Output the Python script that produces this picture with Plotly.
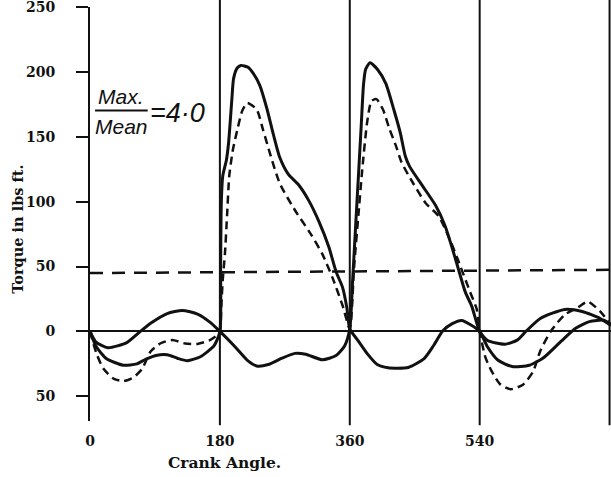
import plotly.graph_objects as go

INK = "#111111"

# ---- data (crank angle in degrees, torque in lbs ft) ----
# solid curve P : lobe 0-180, power peak 180-360, lobe 360-540, lobe 540-720
angle_p = [0, 9, 23, 46, 65, 77, 93, 107, 121, 135, 153, 172, 180,
           181, 182, 184, 189, 192, 196.6, 199, 204, 209, 219, 226, 235, 245, 254, 263, 275, 289, 303, 317, 331, 341, 350, 356, 360,
           372, 385, 398, 413, 441, 463, 476, 489, 502, 515, 528, 540,
           551, 565, 585, 609, 629, 653, 673, 692, 712, 722]
torque_p = [0, -12, -21, -26, -25, -21.5, -18.3, -18, -20.6, -22.5, -19.5, -11, 0,
            50, 100, 120, 132, 145, 179, 195, 203, 205, 203.5, 199, 190, 172, 152, 134, 121, 113, 101, 85, 65, 46, 34, 18, 2,
            -7.5, -17.7, -25.5, -28, -27.8, -20.9, -11, 0.5, 6, 8.5, 5, 0,
            -12, -22, -27, -26, -20, -7.5, 2.5, 7.6, 8.6, 5]

# solid curve Q : hump 0-180, lobe 180-360, power peak 360-540, curve 540-720
angle_q = [0, 8, 25, 51, 67, 84, 107, 128, 149, 167, 180,
           200, 219, 231, 247, 266, 284, 299, 322, 341, 353, 360,
           364, 368, 372, 376, 379, 382, 388, 399, 410, 421, 430, 437, 443, 461, 479, 492, 501, 509, 520, 529, 540,
           551, 575, 592, 604, 624, 658, 682, 707, 722]
torque_q = [0, -8, -12.6, -8.6, -1.3, 6.3, 13.8, 16.2, 13.4, 6.8, 0,
            -11.2, -22.7, -26.6, -25.5, -20.6, -16.9, -17.6, -21.8, -18.6, -11, 2,
            40, 80, 120, 160, 190, 202, 207, 201.5, 191, 171, 153, 135, 127, 112, 97, 81.5, 66, 51, 30.5, 19.5, 0,
            -7, -9.8, -6.7, 0, 10, 17, 15.4, 10, 4.5]

# dashed curve : resultant torque
angle_d = [0, 9, 18.5, 32.5, 46.5, 60.5, 72, 84, 98, 114, 132, 149, 165, 176, 180,
           182, 184, 187, 190, 193, 198, 204, 211, 218, 231, 240, 249.5, 263, 284.5, 306, 322, 336, 350, 360,
           366, 372, 377, 384, 390, 397, 406, 415, 424, 432, 448, 465, 483, 497, 510, 527, 536, 540,
           548, 556, 568, 583, 600, 614, 624, 639, 658, 675, 690, 707, 722]
torque_d = [0, -17, -28.6, -36.3, -38.3, -35.3, -29, -15.4, -9.1, -6.6, -9.3, -9.6, -7, -3, 0,
            20, 40, 60, 90, 120, 140, 155, 170, 176, 171, 155, 137, 114, 93, 75, 59.6, 41.5, 20, 2,
            50, 90, 123, 161, 177.5, 179, 171, 156, 143, 130, 114, 99, 89, 73, 55, 30, 17, 0,
            -20, -30, -40.5, -44.5, -41, -31, -15, 0.5, 13, 18, 23, 15.4, 5]

# mean torque line
mean_angle = [0, 722]
mean_torque = [45, 47.5]

dead_centres = [180, 360, 540, 720]
x_ticks = [0, 180, 360, 540]
y_ticks = [-50, 0, 50, 100, 150, 200, 250]
y_tick_text = ["50", "0", "50", "100", "150", "200", "250"]

SERIF = "DejaVu Serif"
SANS = "Liberation Sans"

fig = go.Figure()
fig.add_trace(go.Scatter(x=mean_angle, y=mean_torque, mode="lines",
                         line=dict(color=INK, width=2.5, dash="13px,9px")))
fig.add_trace(go.Scatter(x=angle_p, y=torque_p, mode="lines",
                         line=dict(color=INK, width=3, shape="spline", smoothing=0.6)))
fig.add_trace(go.Scatter(x=angle_q, y=torque_q, mode="lines",
                         line=dict(color=INK, width=3, shape="spline", smoothing=0.6)))
fig.add_trace(go.Scatter(x=angle_d, y=torque_d, mode="lines",
                         line=dict(color=INK, width=2.5, dash="8px,5px", shape="spline", smoothing=0.6)))

for xv in dead_centres:
    fig.add_shape(type="line", xref="x", yref="paper", x0=xv, x1=xv, y0=-0.01, y1=1.017,
                  line=dict(color=INK, width=2))

# Max./Mean = 4.0 label
fig.add_shape(type="line", xref="x", yref="y", x0=7, x1=80, y0=170.2, y1=170.2,
              line=dict(color=INK, width=2))
fig.add_annotation(x=43, y=170.6, xref="x", yref="y", text="<i>Max.</i>", showarrow=False,
                   xanchor="center", yanchor="bottom", font=dict(family=SANS, size=21, color=INK))
fig.add_annotation(x=43, y=168.2, xref="x", yref="y", text="<i>Mean</i>", showarrow=False,
                   xanchor="center", yanchor="top", font=dict(family=SANS, size=21, color=INK))
fig.add_annotation(x=80, y=168.6, xref="x", yref="y", text="<i>=4·0</i>", showarrow=False,
                   xanchor="left", yanchor="middle", font=dict(family=SANS, size=27, color=INK))

fig.add_annotation(x=-0.138, y=0.462, xref="paper", yref="paper", text="Torque in lbs ft.",
                   textangle=-90, showarrow=False, xanchor="center", yanchor="middle",
                   font=dict(family=SERIF, size=14.5, color=INK, weight="bold"))
fig.add_annotation(x=0.259, y=-0.101, xref="paper", yref="paper", text="Crank Angle.",
                   showarrow=False, xanchor="center", yanchor="middle",
                   font=dict(family=SERIF, size=15.5, color=INK, weight="bold"))

fig.update_layout(width=611, height=477, margin=dict(l=90, r=0, t=7, b=56),
                  plot_bgcolor="white", paper_bgcolor="white", showlegend=False)
fig.update_xaxes(range=[0, 722], tickvals=x_ticks, showgrid=False, zeroline=False,
                 showline=False, ticks="", ticklabelstandoff=10,
                 tickfont=dict(family=SERIF, size=14, color=INK, weight="bold"))
fig.update_yaxes(range=[-69, 250], tickvals=y_ticks, ticktext=y_tick_text, showgrid=False,
                 zeroline=True, zerolinecolor=INK, zerolinewidth=2,
                 showline=True, linecolor=INK, linewidth=2,
                 ticks="outside", ticklen=12, tickwidth=2, tickcolor=INK, ticklabelstandoff=18,
                 ticklabeloverflow="allow",
                 tickfont=dict(family=SERIF, size=14, color=INK, weight="bold"))

fig.write_html("out.html", config={"displayModeBar": False},
               post_script="document.body.style.margin='0';document.body.style.overflow='hidden';")
